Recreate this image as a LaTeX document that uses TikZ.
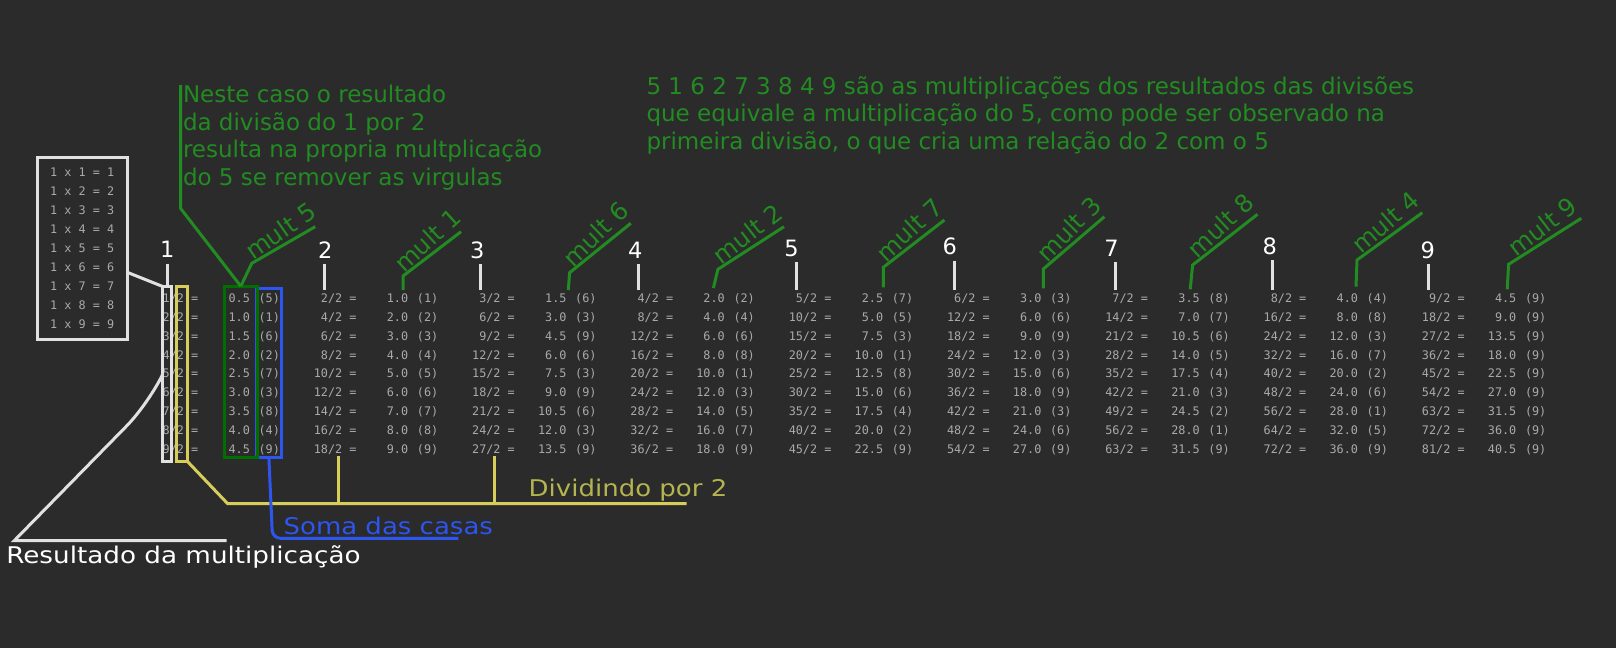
\documentclass[tikz,border=0pt]{standalone}
\usepackage{fontspec}
\usepackage{graphicx}
\setmainfont{DejaVu Sans}
\newfontfamily\tabfont{DejaVu Sans Mono}
\usetikzlibrary{calc,positioning}
\definecolor{bgc}{HTML}{2B2B2B}
\definecolor{tabgray}{RGB}{170,170,170}
\definecolor{wln}{RGB}{225,225,225}
\definecolor{gln}{RGB}{34,139,34}
\definecolor{gbx}{RGB}{0,110,0}
\definecolor{bln}{RGB}{45,85,240}
\definecolor{yln}{RGB}{215,205,90}
\definecolor{ytx}{RGB}{180,180,80}

\begin{document}
\begin{tikzpicture}[x=1pt, y=-1pt,
  cell/.style={font=\tabfont\fontsize{11.8}{14}\selectfont, text=tabgray, inner sep=0pt, text height=8.5pt, text depth=2.5pt},
  boxln/.style={draw, line width=3pt, inner sep=0pt, outer sep=0pt},
  lab/.style={font=\fontsize{22.5}{26}\selectfont, text=white, inner sep=0pt, text height=16pt, text depth=0pt, outer ysep=6pt},
  multlab/.style={font=\fontsize{24.5}{28}\selectfont, text=gln, inner sep=3pt, rotate=5},
  gtextbox/.style={font=\fontsize{23}{27.6}\selectfont, text=gln, align=left},
  bottomlab/.style={font=\fontsize{23}{27}\selectfont, anchor=base west, inner sep=0pt},
  tick/.style={draw=wln, line width=3pt},
  gline/.style={draw=gln, line width=3pt},
  yline/.style={draw=yln, line width=3pt},
  bline/.style={draw=bln, line width=3pt},
  wline/.style={draw=wln, line width=3pt}]

  \path[use as bounding box, fill=bgc] (0,0) rectangle (1616,648);

  \foreach \k in {1,...,9}{
    \foreach \n in {1,...,9}{
      \pgfmathtruncatemacro\p{\k*\n}
      \pgfmathtruncatemacro\h{floor(\p/2)}
      \pgfmathtruncatemacro\f{5*mod(\p,2)}
      \pgfmathtruncatemacro\r{1+mod(5*\p-1,9)}
      \pgfmathsetmacro\xq{198.4+158.3*(\k-1)}
      \pgfmathsetmacro\yq{302.6+18.84*(\n-1)}
      \node[cell, anchor=base east] (q\k\n) at (\xq,\yq) {\p/2 =};
      \node[cell, anchor=base east] (v\k\n) at (\xq+51.7,\yq) {\h.\f};
      \node[cell, anchor=base west] (r\k\n) at (\xq+60,\yq) {(\r)};
    }
  }

  \node[boxln, draw=wln, minimum width=90pt, minimum height=181.7pt, align=center,
    font=\tabfont\fontsize{11.8}{18.9}\selectfont, text=tabgray] (multbox) at (82.2,248.35)
    {1 x 1 = 1\\1 x 2 = 2\\1 x 3 = 3\\1 x 4 = 4\\1 x 5 = 5\\1 x 6 = 6\\1 x 7 = 7\\1 x 8 = 8\\1 x 9 = 9};

  \node[boxln, draw=wln, minimum width=9pt, minimum height=174.7pt] (colbox) at (167.3,373.85) {};
  \node[boxln, draw=yln, minimum width=11.5pt, minimum height=175pt] (divbox) at (181.75,374) {};
  \node[boxln, draw=bln, minimum width=24.2pt, minimum height=169.6pt] (sumbox) at (268.9,373) {};
  \node[boxln, draw=gbx, minimum width=32.8pt, minimum height=171pt] (valbox) at (240.8,371.7) {};

  \foreach \k/\lx/\ly in {1/167.3/249.5, 2/325.4/250, 3/477.2/250, 4/635.3/250, 5/791.5/248.3,
      6/949.7/246.7, 7/1111.6/248.3, 8/1269.7/246, 9/1427.7/250}
    \node[lab] (lab\k) at (\lx,\ly) {\k};

  \draw[tick] (lab1) -- (colbox.north);
  \foreach \k/\tx in {2/324, 3/480.8, 4/638.8, 5/796.9, 6/954.1, 7/1115.5, 8/1272.6, 9/1428.7}{
    \coordinate (tk\k) at (\tx,290);
    \draw[tick] (lab\k.south -| tk\k) -- (tk\k);
  }

  \draw[wline] (multbox.-28) -- (colbox.north west);

  \node[gtextbox, anchor=north west, inner xsep=2.3pt, inner ysep=0pt] (note) at (180.5,85)
    {Neste caso o resultado\\da divisão do 1 por 2\\resulta na propria multplicação\\do 5 se remover as virgulas};
  \coordinate (nk) at (180.5,208.3);
  \draw[gline] (note.north west) -- (nk) -- (valbox.north);

  \node[gtextbox, anchor=north west, inner sep=0pt] (obs) at (646.3,76)
    {5 1 6 2 7 3 8 4 9 são as multiplicações dos resultados das divisões\\que equivale a multiplicação do 5, como pode ser observado na\\primeira divisão, o que cria uma relação do 2 com o 5};

  \coordinate (mk1) at (251.8,263.3);
  \coordinate (mt1) at (315.2,226.7);
  \draw[gline] (valbox.north) -- (mk1) -- node[multlab, sloped, above, pos=0.58] (mu1) {mult 5} (mt1);
  \foreach \k/\m/\bx/\by/\kx/\ky/\tx/\ty in {
      2/1/403/290/403/276/461/231.7,
      3/6/568.3/290/569.6/272.7/630.8/223.3,
      4/2/713.4/288/717.9/269.3/784/226.7,
      5/7/883.3/287.3/883.3/267.3/944.4/220,
      6/3/1043.3/288.3/1043.3/269/1104.4/216.7,
      7/8/1190.2/289.3/1192.6/265/1257.5/214.3,
      8/4/1356/286.7/1357/260/1422.3/212.7,
      9/9/1507.2/289.3/1508.6/264.3/1581.3/218.3}{
    \coordinate (mb\k) at (\bx,\by);
    \coordinate (mk\k) at (\kx,\ky);
    \coordinate (mt\k) at (\tx,\ty);
    \draw[gline] (mb\k) -- (mk\k) -- node[multlab, sloped, above, pos=0.58] (mu\k) {mult \m} (mt\k);
  }

  \coordinate (yk) at (227.5,503.5);
  \coordinate (ye) at (686.6,503.5);
  \coordinate (yd2) at (338.7,503.5);
  \coordinate (yd3) at (494.5,503.5);
  \draw[yline] (divbox.south east) -- (yk) -- (ye);
  \draw[yline] (q29.south -| yd2) -- (yd2);
  \draw[yline] (q39.south -| yd3) -- (yd3);
  \node[bottomlab, text=ytx] (divi) at (528.5,496.7) {\scalebox{1.13}[1]{Dividindo por 2}};

  \coordinate (bk) at (272.5,538.3);
  \coordinate (be) at (458.3,538.3);
  \draw[bline, rounded corners=8pt] (sumbox.south) -- (bk) -- (be);
  \node[bottomlab, text=bln] (soma) at (283.4,534) {\scalebox{1.13}[1]{Soma das casas}};

  \coordinate (wk) at (14.2,540.7);
  \coordinate (we) at (226.5,540.7);
  \draw[wline] (colbox.west) .. controls (158,385) and (141.7,410.6) .. (126.7,425.9) -- (wk) -- (we);
  \node[bottomlab, text=white] (res) at (6.1,563.3) {\scalebox{1.14}[1]{Resultado da multiplicação}};

\end{tikzpicture}
\end{document}
